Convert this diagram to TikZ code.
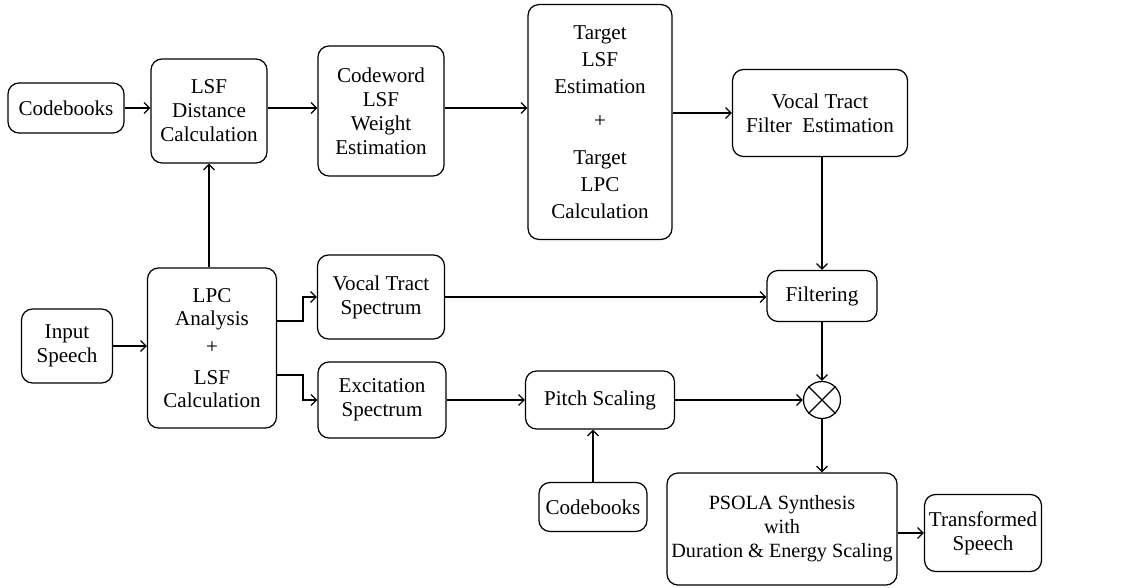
\documentclass[tikz,border=0pt]{standalone}
\usepackage{fontspec}
\setmainfont{Liberation Serif}
\usetikzlibrary{arrows.meta, positioning}
\tikzset{
  every picture/.style={line width=0.7pt},
  box/.style={draw, rounded corners=0.22cm, align=center, inner sep=2pt,
    font=\fontsize{12}{13.6}\selectfont},
  arrow/.style={-{Straight Barb[length=1.1mm, width=2.2mm]}},
  mix/.style={draw, circle, minimum size=0.74cm, inner sep=0pt},
}

\begin{document}
\begin{tikzpicture}[x=0.02cm, y=-0.02cm]
  \useasboundingbox (0,0) rectangle (1126,588);
  % top row
  \node[box, minimum width=2.32cm, minimum height=1.0cm] (cbA) at (66,108) {Codebooks};
  \node[box, minimum width=2.32cm, minimum height=2.08cm] (dist) at (209,111) {LSF\\Distance\\Calculation};
  \node[box, minimum width=2.52cm, minimum height=2.6cm] (cw) at (381,111) {Codeword\\LSF\\Weight\\Estimation};
  \node[box, font=\fontsize{12}{15.3}\selectfont, minimum width=2.88cm, minimum height=4.7cm] (tgt) at (600,122) {Target\\LSF\\Estimation\\[4pt]+\\[6pt]Target\\LPC\\Calculation};
  \node[box, minimum width=3.5cm, minimum height=1.74cm] (vtf) at (820,113) {Vocal Tract\\Filter\ \ Estimation};
  \draw[arrow] (cbA.east) -- (cbA.east -| dist.west);
  \draw[arrow] (dist.east |- cbA) -- (cbA -| cw.west);
  \draw[arrow] (cw.east |- cbA) -- (cbA -| tgt.west);
  \draw[arrow] (tgt.east |- vtf) -- (vtf.west);
  % analysis
  \node[box, minimum width=1.82cm, minimum height=1.48cm] (inp) at (67,346) {Input\\Speech};
  \node[box, font=\fontsize{12}{13}\selectfont, minimum width=2.58cm, minimum height=3.2cm] (lpc) at (212,348) {LPC\\Analysis\\[3pt]+\\[5pt]LSF\\Calculation};
  \node[box, minimum width=2.54cm, minimum height=1.68cm] (vts) at (381,297) {Vocal Tract\\Spectrum};
  \node[box, minimum width=2.56cm, minimum height=1.52cm] (exc) at (382,400) {Excitation\\Spectrum};
  \draw[arrow] (inp.east) -- (inp.east -| lpc.west);
  \draw[arrow] (dist.south |- lpc.north) -- (dist.south);
  \draw[arrow] ([yshift=0.54cm]lpc.east) -- ++(26,0) |- (vts.west);
  \draw[arrow] ([yshift=-0.54cm]lpc.east) -- ++(26,0) |- (exc.west);
  % synthesis
  \node[box, minimum width=2.98cm, minimum height=1.16cm] (pitch) at (600,400) {Pitch Scaling};
  \node[box, minimum width=2.16cm, minimum height=0.98cm] (cbB) at (593,507) {Codebooks};
  \node[box, minimum width=2.2cm, minimum height=1.02cm] (filt) at (822,296) {Filtering};
  \node[mix] (mult) at (822,400) {};
  \draw (mult.45) -- (mult.225) (mult.135) -- (mult.315);
  \node[box, font=\fontsize{11.5}{13.6}\selectfont, minimum width=4.6cm, minimum height=2.24cm] (psola) at (782,529) {PSOLA Synthesis\\with\\Duration \& Energy Scaling};
  \node[box, minimum width=2.34cm, minimum height=1.54cm] (out) at (983,533) {Transformed\\Speech};
  \draw[arrow] (vts.east) -- (vts.east -| filt.west);
  \draw[arrow] (exc.east) -- (pitch.west);
  \draw[arrow] (cbB.north) -- (cbB.north |- pitch.south);
  \draw[arrow] (pitch.east) -- (mult.west);
  \draw[arrow] (vtf.south -| filt) -- (filt.north);
  \draw[arrow] (filt.south) -- (mult.north);
  \draw[arrow] (mult.south) -- (mult.south |- psola.north);
  \draw[arrow] (psola.east |- out.west) -- (out.west);
\end{tikzpicture}
\end{document}
